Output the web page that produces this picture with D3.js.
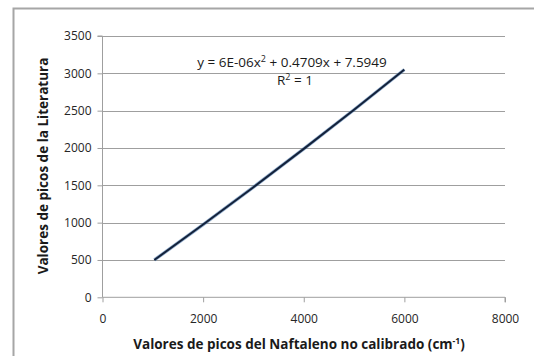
<!DOCTYPE html>
<html><head><meta charset="utf-8">
<script src="https://cdn.jsdelivr.net/npm/d3@7"></script>
<style>body{margin:0;background:#fff}svg{display:block}</style>
</head><body>
<script>
const xValues = [1030, 2000, 3000, 4000, 5000, 6000];
const yValues = [500, 975, 1475, 1988, 2512, 3050];
const xTicks = [0, 2000, 4000, 6000, 8000];
const yTicks = [0, 500, 1000, 1500, 2000, 2500, 3000, 3500];
const equationText = "y = 6E-06x";
const equationRest = " + 0.4709x + 7.5949";
const xTitle = "Valores de picos del Naftaleno no calibrado (cm";
const yTitle = "Valores de picos de la Literatura";

const W = 534, H = 356;
const svg = d3.select("body").append("svg").attr("width", W).attr("height", H);
const font = "'Open Sans', 'Noto Sans', sans-serif";

// outer frame
svg.append("path").attr("d", "M13.5,356 V8.5 H534").attr("fill", "none")
  .attr("stroke", "#a6a6a6").attr("stroke-width", 2);

const x = d3.scaleLinear().domain([0, 8000]).range([102.5, 505]);
const y = d3.scaleLinear().domain([0, 3500]).range([297.3, 36]);

// gridlines
svg.append("g").selectAll("line").data(yTicks.filter(d => d > 0)).join("line")
  .attr("x1", x(0)).attr("x2", x(8000))
  .attr("y1", d => Math.round(y(d)) + 0.5).attr("y2", d => Math.round(y(d)) + 0.5)
  .attr("stroke", "#9f9f9f").attr("stroke-width", 1);

const yAxis = svg.append("g").attr("transform", `translate(${x(0)},0)`)
  .call(d3.axisLeft(y).tickValues(yTicks).tickSize(5).tickPadding(6).tickFormat(d3.format("d")));
const xAxis = svg.append("g").attr("transform", `translate(0,${y(0)})`)
  .call(d3.axisBottom(x).tickValues(xTicks).tickSize(5).tickPadding(12).tickFormat(d3.format("d")));
[yAxis, xAxis].forEach(g => {
  g.select(".domain").attr("stroke", "#9f9f9f");
  g.selectAll(".tick line").attr("stroke", "#9f9f9f");
  g.selectAll("text").attr("fill", "#262626").style("font-family", font).style("font-size", "12px");
});
xAxis.select(".domain").attr("d", `M${x(0)},0H${x(8000)}V5`);
yAxis.select(".domain").attr("d", `M-5,${y(3500)}H0V${y(0)}`);

// series line
const pts = xValues.map((v, i) => [v, yValues[i]]);
const lineGen = d3.line().x(d => x(d[0])).y(d => y(d[1])).curve(d3.curveMonotoneX);
svg.append("path").datum(pts).attr("d", lineGen)
  .attr("fill", "none").attr("stroke", "#3a6ea5").attr("stroke-width", 3.4).attr("opacity", 0.55);
svg.append("path").datum(pts).attr("d", lineGen)
  .attr("fill", "none").attr("stroke", "#13213a").attr("stroke-width", 2);

// equation
const eq = svg.append("text").attr("x", 292).attr("y", 67).attr("text-anchor", "middle")
  .style("font-family", font).style("font-size", "13.5px").attr("fill", "#1a1a1a");
eq.append("tspan").text(equationText);
eq.append("tspan").attr("dy", -5).style("font-size", "9px").text("2");
eq.append("tspan").attr("dy", 5).text(equationRest);
const r2 = svg.append("text").attr("x", 295).attr("y", 85).attr("text-anchor", "middle")
  .style("font-family", font).style("font-size", "13.5px").attr("fill", "#1a1a1a");
r2.append("tspan").text("R");
r2.append("tspan").attr("dy", -5).style("font-size", "9px").text("2");
r2.append("tspan").attr("dy", 5).text(" = 1");

// axis titles
const xt = svg.append("text").attr("x", 299).attr("y", 349).attr("text-anchor", "middle")
  .style("font-family", font).style("font-size", "13.5px").style("font-weight", "bold").attr("fill", "#1a1a1a");
xt.append("tspan").text(xTitle);
xt.append("tspan").attr("dy", -5).style("font-size", "8.5px").text("-1");
xt.append("tspan").attr("dy", 5).text(")");

svg.append("text").attr("transform", "translate(48,166) rotate(-90)").attr("text-anchor", "middle")
  .style("font-family", font).style("font-size", "13.5px").style("font-weight", "bold").attr("fill", "#1a1a1a")
  .text(yTitle);
</script>
</body></html>
